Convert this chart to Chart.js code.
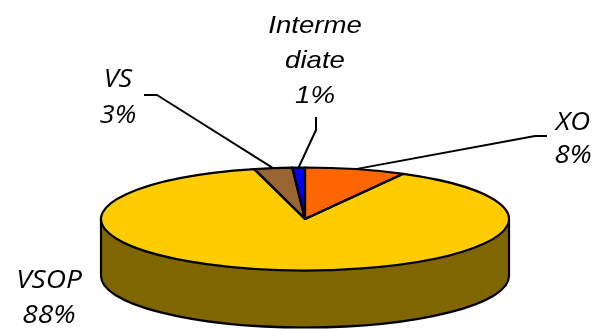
<!DOCTYPE html>
<html><head><meta charset="utf-8">
<script src="https://cdn.jsdelivr.net/npm/chart.js@4/dist/chart.umd.min.js"></script>
<style>html,body{margin:0;padding:0;background:#fff;overflow:hidden}canvas{display:block}</style>
</head><body>
<canvas id="c" width="595" height="329"></canvas>
<script>
// ---- data ----
const categories = ['XO', 'VSOP', 'VS', 'Intermediate'];
const labelLines = [['XO'], ['VSOP'], ['VS'], ['Interme', 'diate']];
const shares = [8, 88, 3, 1];
const topColors = ['#FF6600', '#FFCC00', '#996633', '#0000FF'];
const sideColors = ['#803300', '#806600', '#4D3319', '#000080'];

// ---- layout (screen geometry of the 3D pie) ----
const GEO = { cx: 305, cy: 219, rx: 204, ry: 51.5, depth: 57 };
// label placements: text centre x, first baseline, line gap, font, horizontal stretch, leader (elbow + end)
const LABEL_POS = [
  { x: 573, y: 130, gap: 33, font: "italic 26px 'Open Sans'", sx: 1.06, leader: [[547, 136], [535, 136]] },
  { x: 49,  y: 288, gap: 35, font: "italic 26px 'Open Sans'", sx: 1.08, leader: null },
  { x: 118, y: 87,  gap: 36, font: "italic 26px 'Open Sans'", sx: 1.04, leader: [[144, 95], [157, 95]] },
  { x: 315, y: 33,  gap: 35, font: "italic 24px 'Liberation Sans'", sx: 1.15, leader: [[316, 117], [316, 130]] }
];

function pt(a, dy) {
  return [GEO.cx + GEO.rx * Math.cos(a), GEO.cy + (dy || 0) + GEO.ry * Math.sin(a)];
}

const pie3d = {
  id: 'pie3d',
  beforeDatasetsDraw(chart) {
    const ctx = chart.ctx;
    const arcs = chart.getDatasetMeta(0).data;
    const { cx, cy, rx, ry, depth } = GEO;
    // side walls (front half only)
    arcs.forEach((arc, i) => {
      const a1 = Math.max(arc.startAngle, 0), a2 = Math.min(arc.endAngle, Math.PI);
      if (a1 < a2) {
        ctx.beginPath();
        ctx.ellipse(cx, cy, rx, ry, 0, a1, a2, false);
        ctx.ellipse(cx, cy + depth, rx, ry, 0, a2, a1, true);
        ctx.closePath();
        ctx.fillStyle = sideColors[i];
        ctx.fill();
      }
    });
    ctx.save();
    ctx.strokeStyle = '#000';
    ctx.lineWidth = 2.2;
    ctx.lineJoin = 'round';
    ctx.beginPath();
    ctx.moveTo(cx + rx, cy);
    ctx.lineTo(cx + rx, cy + depth);
    ctx.ellipse(cx, cy + depth, rx, ry, 0, 0, Math.PI, false);
    ctx.lineTo(cx - rx, cy);
    ctx.stroke();
    arcs.forEach((arc) => {
      const a = arc.startAngle;
      if (a > 0 && a < Math.PI) {
        const p = pt(a);
        ctx.beginPath();
        ctx.moveTo(p[0], p[1]);
        ctx.lineTo(p[0], p[1] + depth);
        ctx.stroke();
      }
    });
    ctx.restore();
    // squash the library's pie into the top ellipse
    const a0 = arcs[0];
    const R = a0.outerRadius;
    ctx.save();
    ctx.translate(cx, cy);
    ctx.scale(rx / R, ry / R);
    ctx.translate(-a0.x, -a0.y);
  },
  afterDatasetsDraw(chart) {
    const ctx = chart.ctx;
    ctx.restore();
    const arcs = chart.getDatasetMeta(0).data;
    const { cx, cy, rx, ry } = GEO;
    ctx.save();
    ctx.strokeStyle = '#000';
    ctx.lineWidth = 2.2;
    ctx.lineJoin = 'round';
    arcs.forEach((arc) => {
      const p = pt(arc.startAngle);
      ctx.beginPath();
      ctx.moveTo(cx, cy);
      ctx.lineTo(p[0], p[1]);
      ctx.ellipse(cx, cy, rx, ry, 0, arc.startAngle, arc.endAngle, false);
      ctx.closePath();
      ctx.stroke();
    });
    // leader lines and labels
    ctx.lineWidth = 2;
    ctx.fillStyle = '#000';
    ctx.textAlign = 'center';
    ctx.textBaseline = 'alphabetic';
    arcs.forEach((arc, i) => {
      const L = LABEL_POS[i];
      if (L.leader) {
        const mid = (arc.startAngle + arc.endAngle) / 2;
        const p = pt(mid);
        ctx.beginPath();
        ctx.moveTo(L.leader[0][0], L.leader[0][1]);
        ctx.lineTo(L.leader[1][0], L.leader[1][1]);
        ctx.lineTo(p[0], p[1]);
        ctx.stroke();
      }
      const lines = labelLines[i].concat([shares[i] + '%']);
      ctx.font = L.font;
      lines.forEach((t, k) => {
        ctx.save();
        ctx.translate(L.x, L.y + k * L.gap);
        ctx.scale(L.sx, 1);
        ctx.fillText(t, 0, 0);
        ctx.restore();
      });
    });
    ctx.restore();
  }
};

new Chart(document.getElementById('c'), {
  type: 'pie',
  data: {
    labels: categories,
    datasets: [{
      data: shares,
      backgroundColor: topColors,
      borderWidth: 0,
      borderColor: 'rgba(0,0,0,0)',
      clip: false
    }]
  },
  options: {
    responsive: false,
    animation: false,
    events: [],
    layout: { padding: 0 },
    plugins: { legend: { display: false }, tooltip: { enabled: false } }
  },
  plugins: [pie3d]
});
</script>
</body></html>
